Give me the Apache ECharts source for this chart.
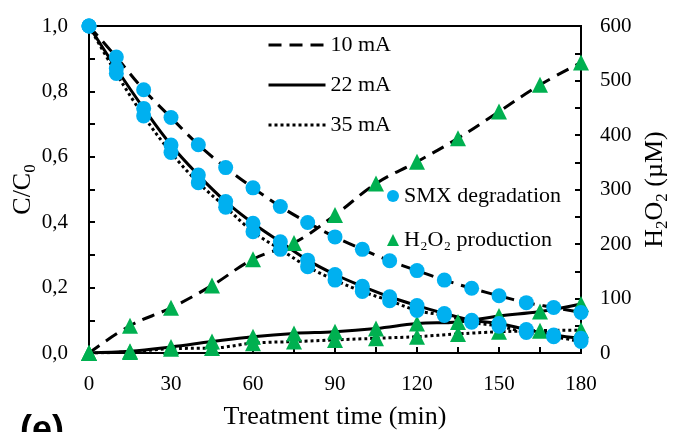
<!DOCTYPE html>
<html>
<head>
<meta charset="utf-8">
<script src="https://cdn.jsdelivr.net/npm/echarts@6/dist/echarts.min.js"></script>
<style>
  html, body { margin: 0; padding: 0; background: #fff; }
  #chart { width: 673px; height: 432px; }
</style>
</head>
<body>
<div id="chart"></div>
<script>
// Sampling times (min)
const timeSMX = [0, 10, 20, 30, 40, 50, 60, 70, 80, 90, 100, 110, 120, 130, 140, 150, 160, 170, 180];
const timeH2O2 = [0, 15, 30, 45, 60, 75, 90, 105, 120, 135, 150, 165, 180];

// SMX remaining fraction C/C0
const smx10 = [1.0, 0.905, 0.805, 0.72, 0.637, 0.567, 0.505, 0.448, 0.399, 0.355, 0.317, 0.282, 0.252, 0.223, 0.198, 0.175, 0.154, 0.139, 0.124];
const smx22 = [1.0, 0.87, 0.748, 0.636, 0.544, 0.463, 0.397, 0.34, 0.284, 0.24, 0.204, 0.172, 0.145, 0.121, 0.10, 0.09, 0.072, 0.055, 0.045];
const smx35 = [1.0, 0.855, 0.725, 0.613, 0.521, 0.446, 0.371, 0.317, 0.264, 0.223, 0.188, 0.16, 0.13, 0.115, 0.094, 0.082, 0.063, 0.05, 0.035];

// H2O2 concentration (µM)
const h2o2_10 = [0, 50, 83, 124, 172, 202, 253, 311, 351, 394, 443, 492, 533];
const h2o2_22 = [0, 3, 11, 21, 30, 36, 39, 45, 54, 57, 68, 76, 90];
const h2o2_35 = [0, 2, 8, 9, 18, 21, 24, 27, 30, 35, 39, 41, 42];

// Axis tick values
const xTicks = { min: 0, max: 180, step: 15, labelStep: 30 };
const leftTicks = { min: 0, max: 1, step: 0.1 };
const rightTicks = { min: 0, max: 600, step: 50, labelStep: 100 };

const currents = ['10 mA', '22 mA', '35 mA'];
const SMX_NAME = 'SMX degradation';
const H2O2_NAME = 'H\u2082O\u2082 production';

const FONT = '"Liberation Serif", "Times New Roman", serif';
const BLUE = '#00b0f0';
const GREEN = '#00b050';

const lineStyles = {
  '10 mA': { type: [13, 8], width: 3, cap: 'butt' },
  '22 mA': { type: 'solid', width: 3, cap: 'butt' },
  '35 mA': { type: [3, 3], width: 3, cap: 'butt' }
};

function pairs(xs, ys) { return xs.map((x, i) => [x, ys[i]]); }

function lineSeries(name, xs, ys, yAxisIndex) {
  const ls = lineStyles[name];
  return {
    name, type: 'line', yAxisIndex, smooth: 0.4, symbol: 'none',
    data: pairs(xs, ys), z: 2,
    lineStyle: { color: '#000', width: ls.width, type: ls.type, cap: ls.cap },
    itemStyle: { color: '#000' }
  };
}

function markerSeries(name, xs, ys, yAxisIndex, symbol, color, size) {
  return {
    name, type: 'scatter', yAxisIndex, symbol, symbolSize: size,
    data: pairs(xs, ys), z: 3,
    itemStyle: { color: color, opacity: 1 }
  };
}

const smxSets = [smx10, smx22, smx35];
const h2o2Sets = [h2o2_10, h2o2_22, h2o2_35];

const series = [];
currents.forEach((c, i) => {
  series.push(lineSeries(c, timeSMX, smxSets[i], 0));
  series.push(lineSeries(c, timeH2O2, h2o2Sets[i], 1));
});
currents.forEach((c, i) => {
  series.push(markerSeries(H2O2_NAME, timeH2O2, h2o2Sets[i], 1, 'triangle', GREEN, 16));
});
currents.forEach((c, i) => {
  series.push(markerSeries(SMX_NAME, timeSMX, smxSets[i], 0, 'circle', BLUE, 15));
});

const axisLineStyle = { show: true, lineStyle: { color: '#000', width: 2 } };
const tickStyle = { show: true, inside: true, length: 6, lineStyle: { color: '#000', width: 2 } };
const labelStyle = { color: '#000', fontFamily: FONT, fontSize: 21 };

// main text plus a lowered, smaller subscript
const subRich = {
  m: { fontFamily: FONT, fontSize: 26, color: '#000', lineHeight: 26, verticalAlign: 'top' },
  s: { fontFamily: FONT, fontSize: 17, color: '#000', lineHeight: 29, verticalAlign: 'bottom' }
};

const option = {
  animation: false,
  backgroundColor: '#fff',
  grid: {
    left: 89, right: 92, top: 26, bottom: 79,
    show: true, borderColor: '#000', borderWidth: 2,
    containLabel: false, outerBoundsMode: 'none'
  },
  legend: [
    {
      data: currents, orient: 'vertical', left: 262, top: 29,
      itemWidth: 57, itemHeight: 14, itemGap: 18, selectedMode: false,
      itemStyle: { color: 'rgba(0,0,0,0)', borderWidth: 0, opacity: 0 },
      lineStyle: { width: 3 },
      textStyle: { color: '#000', fontFamily: FONT, fontSize: 22, lineHeight: 16 }
    },
    {
      data: [SMX_NAME, H2O2_NAME], orient: 'vertical', left: 382, top: 180,
      itemWidth: 12, itemHeight: 12, itemGap: 22, selectedMode: false,
      textStyle: { color: '#000', fontFamily: FONT, fontSize: 22, lineHeight: 16 }
    }
  ],
  xAxis: {
    type: 'value', min: xTicks.min, max: xTicks.max, interval: xTicks.step,
    name: 'Treatment time (min)', nameLocation: 'middle', nameGap: 51,
    nameTextStyle: { color: '#000', fontFamily: FONT, fontSize: 26 },
    axisLine: axisLineStyle, axisTick: tickStyle, splitLine: { show: false },
    axisLabel: Object.assign({ margin: 21, formatter: v => (v % xTicks.labelStep === 0 ? String(v) : '') }, labelStyle)
  },
  yAxis: [
    {
      type: 'value', min: leftTicks.min, max: leftTicks.max, interval: leftTicks.step,
      name: '{m|C/C}{s|0}', nameLocation: 'middle', nameGap: 50, nameRotate: 90, nameMoveOverlap: false,
      nameTextStyle: { color: '#000', fontFamily: FONT, fontSize: 26, rich: subRich },
      axisLine: axisLineStyle, axisTick: tickStyle, splitLine: { show: false },
      axisLabel: Object.assign({
        margin: 21,
        formatter: v => {
          const k = Math.round(v * 10);
          return k % 2 === 0 ? (k / 10).toFixed(1).replace('.', ',') : '';
        }
      }, labelStyle)
    },
    {
      type: 'value', position: 'right', min: rightTicks.min, max: rightTicks.max, interval: rightTicks.step,
      name: '{m|H}{s|2}{m|O}{s|2}{m| (\u00b5M)}', nameLocation: 'middle', nameGap: 54, nameRotate: 90,
      nameTextStyle: { color: '#000', fontFamily: FONT, fontSize: 26, rich: subRich },
      axisLine: axisLineStyle, axisTick: tickStyle, splitLine: { show: false },
      axisLabel: Object.assign({ margin: 19, formatter: v => (v % rightTicks.labelStep === 0 ? String(v) : '') }, labelStyle)
    }
  ],
  graphic: [
    {
      type: 'text', left: 20, top: 413,
      style: { text: '(e)', fill: '#000', font: 'bold 36px "Liberation Sans", Arial, sans-serif' }
    }
  ],
  series
};

const chart = echarts.init(document.getElementById('chart'), null, { renderer: 'canvas' });
chart.setOption(option);
</script>
</body>
</html>
